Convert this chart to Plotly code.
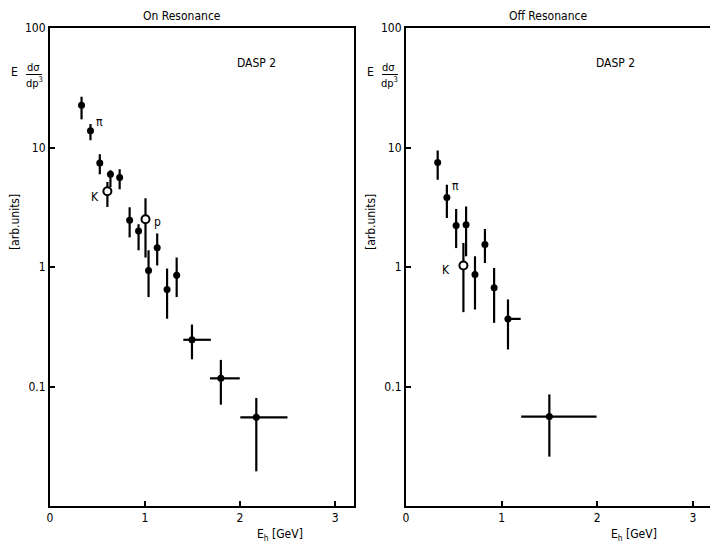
import plotly.graph_objects as go

# ---------------- data ----------------
# On resonance, filled points (hadrons)
on_x      = [0.332, 0.426, 0.524, 0.636, 0.733, 0.838, 0.932, 1.128, 1.037, 1.232, 1.333, 1.494, 1.798, 2.171]
on_y      = [22.6, 13.8, 7.43, 5.97, 5.60, 2.46, 2.00, 1.45, 0.937, 0.649, 0.851, 0.246, 0.117, 0.0552]
on_yhi    = [26.6, 15.7, 8.79, 6.45, 6.58, 3.16, 2.28, 1.91, 1.38, 0.97, 1.20, 0.330, 0.167, 0.0802]
on_ylo    = [17.2, 11.5, 5.97, 4.65, 4.47, 1.77, 1.38, 1.03, 0.56, 0.369, 0.56, 0.169, 0.0705, 0.0195]
on_xlo    = [None]*11 + [1.403, 1.683, 2.003]
on_xhi    = [None]*11 + [1.693, 1.997, 2.499]
# On resonance, open points (K and p)
on_open_x   = [0.604, 1.005]
on_open_y   = [4.30, 2.51]
on_open_yhi = [5.15, 3.76]
on_open_ylo = [3.18, 1.20]

# Off resonance, filled points
off_x     = [0.332, 0.428, 0.525, 0.629, 0.826, 0.722, 0.922, 1.067, 1.4995]
off_y     = [7.49, 3.82, 2.22, 2.26, 1.54, 0.864, 0.669, 0.368, 0.056]
off_yhi   = [9.44, 4.88, 3.06, 3.21, 2.08, 1.23, 0.983, 0.535, 0.0859]
off_ylo   = [5.37, 2.57, 1.44, 1.23, 1.08, 0.441, 0.341, 0.204, 0.0259]
off_xlo   = [None]*7 + [1.033, 1.205]
off_xhi   = [None]*7 + [1.200, 1.993]
# Off resonance, open point (K)
off_open_x   = [0.601]
off_open_y   = [1.03]
off_open_yhi = [1.59]
off_open_ylo = [0.419]

y_tickvals = [0.1, 1, 10, 100]
y_ticktext = ["0.1", "1", "10", "100"]
x_tickvals = [0, 1, 2, 3]
x_ticktext = ["0", "1", "2", "3"]

FONT = "Liberation Sans Narrow, DejaVu Sans Condensed, Arial Narrow, sans-serif"

OFF = 8  # page body margin
W, H = 718 - OFF, 547 - OFF
# desired plot-area edges in page pixels
PL, PR, PT, PB = 50, 714, 28, 506
ML, MT = PL - OFF, PT - OFF
MR, MB = W - (PR - OFF), H - (PB - OFF)
PW, PH = PR - PL, PB - PT


def px(x):
    return (x - PL) / PW


def py(y):
    return (PB - y) / PH


def errs(v, hi, lo):
    return [h - c for c, h in zip(v, hi)], [c - l for c, l in zip(v, lo)]


def xerrs(v, hi, lo):
    plus = [(h - c) if h is not None else 0 for c, h in zip(v, hi)]
    minus = [(c - l) if l is not None else 0 for c, l in zip(v, lo)]
    return plus, minus


fig = go.Figure()

panels = [
    ("x", "y", on_x, on_y, on_yhi, on_ylo, on_xhi, on_xlo,
     on_open_x, on_open_y, on_open_yhi, on_open_ylo),
    ("x2", "y2", off_x, off_y, off_yhi, off_ylo, off_xhi, off_xlo,
     off_open_x, off_open_y, off_open_yhi, off_open_ylo),
]

for xa, ya, X, Y, YH, YL, XH, XL, OX, OY, OYH, OYL in panels:
    ep, em = errs(Y, YH, YL)
    xp, xm = xerrs(X, XH, XL)
    fig.add_trace(go.Scatter(
        x=X, y=Y, xaxis=xa, yaxis=ya, mode="markers",
        marker=dict(color="black", size=7, symbol="circle"),
        error_y=dict(type="data", symmetric=False, array=ep, arrayminus=em,
                     color="black", thickness=2.2, width=0),
        error_x=dict(type="data", symmetric=False, array=xp, arrayminus=xm,
                     color="black", thickness=2.2, width=0),
        showlegend=False, hoverinfo="x+y"))
    op, om = errs(OY, OYH, OYL)
    fig.add_trace(go.Scatter(
        x=OX, y=OY, xaxis=xa, yaxis=ya, mode="markers",
        marker=dict(color="white", size=8, symbol="circle",
                    line=dict(color="black", width=2)),
        error_y=dict(type="data", symmetric=False, array=op, arrayminus=om,
                     color="black", thickness=2.2, width=0),
        showlegend=False, hoverinfo="x+y"))

d1 = [0, px(355)]
d2 = [px(407), 1.0]

axis_common = dict(showline=True, linecolor="black", linewidth=2, mirror=True,
                   ticks="inside", ticklen=5, tickwidth=1.5, tickcolor="black",
                   showgrid=False, zeroline=False,
                   tickfont=dict(family=FONT, size=12, color="black"))

fig.update_layout(
    width=W, height=H,
    margin=dict(l=ML, r=MR, t=MT, b=MB),
    paper_bgcolor="white", plot_bgcolor="white",
    font=dict(family=FONT, size=12, color="black"),
    xaxis=dict(domain=d1, range=[0, 3.2], tickvals=x_tickvals, ticktext=x_ticktext, **axis_common),
    xaxis2=dict(domain=d2, range=[0, 3.2], tickvals=x_tickvals, ticktext=x_ticktext,
                anchor="y2", **axis_common),
    yaxis=dict(type="log", range=[-2, 2], tickvals=y_tickvals, ticktext=y_ticktext,
               anchor="x", **axis_common),
    yaxis2=dict(type="log", range=[-2, 2], tickvals=y_tickvals, ticktext=y_ticktext,
                anchor="x2", **axis_common),
)

ann = []


def txt(x, y, s, size=12, **kw):
    ann.append(dict(x=px(x), y=py(y), xref="paper", yref="paper", text=s,
                    xanchor="center", yanchor="middle",
                    showarrow=False, font=dict(family=FONT, size=size, color="black"), **kw))


# titles
txt(182, 16, "On Resonance", 12)
txt(550, 16, "Off Resonance", 12)
# DASP 2
txt(257, 63, "DASP 2", 12)
txt(617, 63, "DASP 2", 12)
# x axis labels
txt(281, 535, "E<sub>h</sub> [GeV]", 12)
txt(636, 535, "E<sub>h</sub> [GeV]", 12)
# particle labels
txt(100, 122, "π", 12)
txt(95, 197, "K", 12)
txt(158, 222, "p", 12)
txt(457, 186, "π", 12)
txt(447, 270, "K", 12)
# y labels
for x0 in (0, 357):
    txt(14 + x0, 72, "E", 12)
    txt(33 + x0, 67, "dσ", 11)
    txt(34 + x0, 82, "dp<sup>3</sup>", 11)
    txt(15 + x0, 222, "[arb.units]", 12, textangle=-90)

fig.update_layout(annotations=ann)

shapes = []
for x0 in (0, 357):
    shapes.append(dict(type="line", xref="paper", yref="paper",
                       x0=px(26 + x0), x1=px(42 + x0), y0=py(74.5), y1=py(74.5),
                       line=dict(color="black", width=1)))
fig.update_layout(shapes=shapes)

fig.write_html("out.html")
